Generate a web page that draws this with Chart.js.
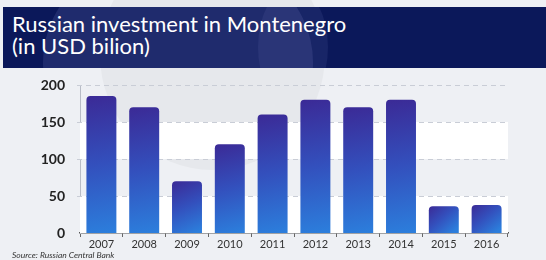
<!DOCTYPE html>
<html><head><meta charset="utf-8">
<script src="https://cdn.jsdelivr.net/npm/chart.js@4"></script>
<style>
html,body{margin:0;padding:0;background:#eef0f4;}
#wrap{position:relative;width:546px;height:260px;overflow:hidden;background:#eef0f4;font-family:Lato,sans-serif;}
#bgshape{position:absolute;left:100px;top:-60px;width:225px;height:230px;border-radius:50%;background:#e6e8ec;}
#hdr{position:absolute;left:3px;top:7px;width:543px;height:61px;background:#0b185a;overflow:hidden;}
#hdr .glow{position:absolute;left:40px;top:-60px;width:270px;height:230px;border-radius:50%;background:rgba(120,135,200,0.18);}
#hdr .glow2{position:absolute;left:255px;top:-20px;width:70px;height:120px;border-radius:50%;background:rgba(120,135,200,0.12);}
#hdr .t1{position:absolute;left:9px;top:3px;color:#fff;font-size:22px;line-height:28px;white-space:nowrap;}
#hdr .t2{position:absolute;left:9px;top:25px;color:#fff;font-size:22px;line-height:28px;font-weight:400;white-space:nowrap;}
#src{position:absolute;left:12px;top:250px;font-size:8.5px;line-height:10px;font-style:italic;color:#333;white-space:nowrap;}
canvas{position:absolute;left:0;top:0;}
</style></head>
<body><div id="wrap">
<div id="bgshape"></div>
<canvas id="c" width="546" height="260"></canvas>
<div id="hdr"><div class="glow"></div><div class="glow2"></div><div class="t1">Russian investment in Montenegro</div><div class="t2">(in USD bilion)</div></div>
<div id="src">Source: Russian Central Bank</div>
</div>
<script>
const years = ['2007','2008','2009','2010','2011','2012','2013','2014','2015','2016'];
const investment = [185, 170, 70, 120, 160, 180, 170, 180, 36, 38];
const yTicks = [0, 50, 100, 150, 200];

const bands = {
  id: 'bands',
  beforeDatasetsDraw(chart) {
    const {ctx, chartArea: a, scales: {y}} = chart;
    ctx.save();
    ctx.fillStyle = '#ffffff';
    [[100,150],[0,50]].forEach(([lo,hi]) => {
      const t = y.getPixelForValue(hi), b = y.getPixelForValue(lo);
      ctx.fillRect(a.left, t, a.right - a.left, b - t);
    });
    ctx.strokeStyle = '#c9cdd6';
    ctx.lineWidth = 1;
    ctx.setLineDash([5,4]);
    yTicks.filter(v => v > 0).forEach(v => {
      const p = Math.round(y.getPixelForValue(v)) + 0.5;
      ctx.beginPath(); ctx.moveTo(a.left - 3, p); ctx.lineTo(a.right, p); ctx.stroke();
    });
    ctx.restore();
  }
};

function barGrad(c) {
  const chart = c.chart;
  if (!chart.chartArea || c.type !== 'data') return '#3355c0';
  const y = chart.scales.y, x = chart.scales.x;
  const top = y.getPixelForValue(c.raw), bot = y.getPixelForValue(0);
  const xc = x.getPixelForValue(c.dataIndex);
  const g = chart.ctx.createLinearGradient(xc - 15, top, xc + 8, bot);
  g.addColorStop(0, '#3b2a96');
  g.addColorStop(0.5, '#3350bd');
  g.addColorStop(1, '#2c7edc');
  return g;
}

new Chart(document.getElementById('c'), {
  type: 'bar',
  data: { labels: years, datasets: [{ data: investment, backgroundColor: barGrad, borderRadius: 4, borderSkipped: 'bottom', categoryPercentage: 1, barPercentage: 0.7 }] },
  options: {
    responsive: false, animation: false,
    layout: { padding: { left: 8, right: 38, top: 85, bottom: 6 } },
    plugins: { legend: { display: false }, tooltip: { enabled: false }, title: { display: false } },
    scales: {
      x: {
        grid: { display: true, offset: true, drawOnChartArea: false, tickLength: 4, color: '#666' },
        border: { display: true, color: '#555', width: 1.5 },
        ticks: { color: '#333', font: { family: 'Lato', size: 11 }, padding: 1 },
        afterFit(s) { s.height = 21; }
      },
      y: {
        min: 0, max: 200,
        afterBuildTicks(s) { s.ticks = yTicks.map(v => ({value: v})); },
        grid: { display: false },
        border: { display: true, color: '#b8bcc6', width: 1 },
        ticks: { color: '#222', font: { family: 'Lato', size: 14, weight: 'bold' }, padding: 7 },
        afterFit(s) { s.width = 72; }
      }
    }
  },
  plugins: [bands]
});
</script>
</body></html>
